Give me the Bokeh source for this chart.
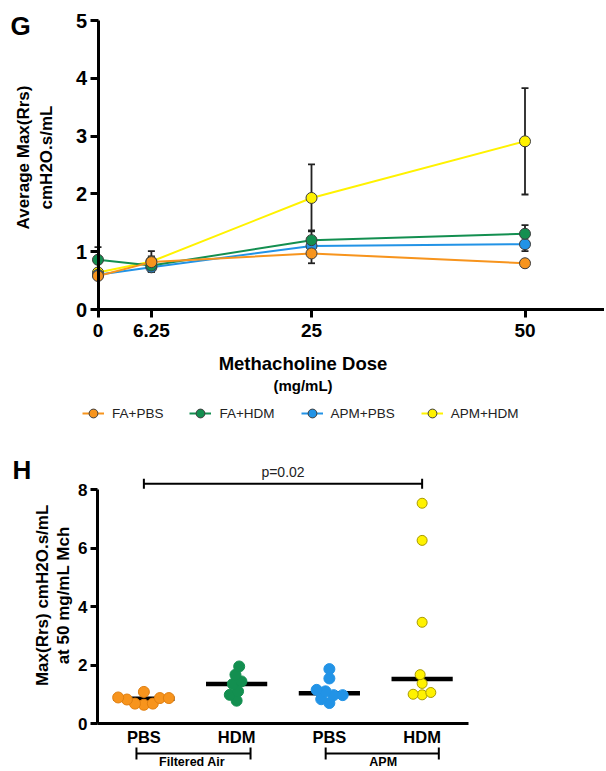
import math
import numpy as np
from bokeh.plotting import figure
from bokeh.models import (Range1d, FixedTicker, Label, Legend, LegendItem, Whisker,
                          ColumnDataSource, Arrow, TeeHead)
from bokeh.layouts import column
from bokeh.embed import file_html
from bokeh.resources import INLINE

FONT = "Liberation Sans"

# ---------------- Panel G data ----------------
doses = [0, 6.25, 25, 50]
dose_labels = ["0", "6.25", "25", "50"]
g_fa_pbs = [0.58, 0.82, 0.97, 0.80]
g_fa_hdm = [0.86, 0.76, 1.20, 1.31]
g_apm_pbs = [0.60, 0.73, 1.10, 1.13]
g_apm_hdm = [0.64, 0.83, 1.93, 2.91]
g_fa_pbs_err = [0.05, 0.10, 0.17, 0.03]
g_fa_hdm_err = [0.22, 0.10, 0.17, 0.15]
g_apm_pbs_err = [0.05, 0.08, 0.08, 0.12]
g_apm_hdm_err = [0.05, 0.18, 0.58, 0.92]
series_names = ["FA+PBS", "FA+HDM", "APM+PBS", "APM+HDM"]
g_yticks = [0, 1, 2, 3, 4, 5]

# ---------------- Panel H data ----------------
h_groups = ["PBS", "HDM", "PBS", "HDM"]
h_fa_pbs = [0.64, 0.68, 0.68, 0.82, 0.87, 0.87, 0.89, 1.08]
h_fa_hdm = [0.78, 0.98, 1.10, 1.35, 1.44, 1.67, 1.95]
h_apm_pbs = [0.70, 0.83, 0.97, 0.97, 1.10, 1.15, 1.54, 1.86]
h_apm_hdm = [0.98, 1.00, 1.06, 1.37, 1.67, 3.46, 6.26, 7.53]
h_exposures = ["Filtered Air", "APM"]
h_yticks = [0, 2, 4, 6, 8]
p_text = "p=0.02"

ORANGE = "#F7941D"
GREEN = "#138F50"
BLUE = "#2293E6"
YELLOW = "#FFF200"


def style_axis(ax, size, tick_out=8, standoff=4):
    ax.axis_line_width = 3
    ax.axis_line_color = "black"
    ax.major_tick_line_width = 3
    ax.major_tick_out = tick_out
    ax.major_tick_in = 0
    ax.minor_tick_out = 0
    ax.minor_tick_in = 0
    ax.major_label_text_font = FONT
    ax.major_label_text_font_style = "bold"
    ax.major_label_text_font_size = size
    ax.major_label_text_color = "black"
    ax.major_label_standoff = standoff


def lab(p, x, y, text, size, bold=True, xo=0, yo=0, align="center", base="middle", angle=0,
        color="black"):
    p.add_layout(Label(x=x, y=y, x_offset=xo, y_offset=yo, text=text, text_align=align,
                       text_baseline=base, angle=angle, text_font=FONT,
                       text_font_style="bold" if bold else "normal",
                       text_font_size=size, text_color=color))


# ================= Figure G =================
GW, GH = 604, 448
GX0, GXS = 97.5, 8.54     # pixel of x=0 and px per unit
GY0, GYS = 309.0, 57.8    # pixel (from top) of y=0 and px per unit
gx_start, gx_end = -GX0 / GXS, (GW - GX0) / GXS
gy_start, gy_end = -(GH - GY0) / GYS, GY0 / GYS
G = figure(width=GW, height=GH, x_range=Range1d(gx_start, gx_end), y_range=Range1d(gy_start, gy_end),
           output_backend="svg", toolbar_location=None, title=None,
           min_border_left=0, min_border_right=0, min_border_top=0, min_border_bottom=0)
G.grid.visible = False
G.outline_line_color = None
G.background_fill_color = None
G.border_fill_color = "white"
G.xaxis.ticker = FixedTicker(ticks=doses)
G.xaxis.major_label_overrides = {d: l for d, l in zip(doses, dose_labels)}
G.xaxis.bounds = (0, gx_end)
G.xaxis.fixed_location = 0
G.yaxis.ticker = FixedTicker(ticks=g_yticks)
G.yaxis.bounds = (0, g_yticks[-1])
G.yaxis.fixed_location = 0
style_axis(G.xaxis[0], "19px", 8, 6)
style_axis(G.yaxis[0], "20px", 8, 3)

vals = [g_fa_pbs, g_fa_hdm, g_apm_pbs, g_apm_hdm]
errs = [g_fa_pbs_err, g_fa_hdm_err, g_apm_pbs_err, g_apm_hdm_err]
cols = [ORANGE, GREEN, BLUE, YELLOW]
rends = {}
for idx in [3, 2, 1, 0]:
    v, e, c = vals[idx], errs[idx], cols[idx]
    src = ColumnDataSource(dict(x=doses, y=v,
                                upper=[a + b for a, b in zip(v, e)],
                                lower=[a - b for a, b in zip(v, e)]))
    w = Whisker(base="x", upper="upper", lower="lower", source=src, dimension="height",
                line_width=1.8, line_color="#222222", level="underlay",
                upper_head=TeeHead(size=7, line_width=1.8, line_color="#222222"),
                lower_head=TeeHead(size=7, line_width=1.8, line_color="#222222"))
    G.add_layout(w)
    lr = G.line("x", "y", source=src, line_color=c, line_width=2)
    sr = G.scatter("x", "y", source=src, marker="circle", size=11, fill_color=c,
                   line_color="#3c3c3c", line_width=1)
    rends[idx] = (lr, sr)

legend = Legend(items=[LegendItem(label=series_names[i], renderers=list(rends[i])) for i in range(4)],
                orientation="horizontal", location=(82, 24), glyph_width=22, glyph_height=22,
                label_standoff=8, spacing=26, padding=0, margin=0,
                border_line_color=None, background_fill_alpha=0,
                label_text_font=FONT, label_text_font_size="13.5px", label_text_color="#222222")
G.add_layout(legend)

lab(G, 24, 0, "Methacholine Dose", "18.5px", yo=-54)
lab(G, 24, 0, "(mg/mL)", "15px", yo=-76)
lab(G, 0, 2.63, "Average Max(Rrs)", "17px", xo=-74.5, angle=math.pi / 2)
lab(G, 0, 2.63, "cmH2O.s/mL", "17px", xo=-51.5, angle=math.pi / 2)
lab(G, gx_start, gy_end, "G", "26px", xo=10, yo=-10, align="left", base="top")

# ================= Figure H =================
HW, HH = 604, 321
HX0, HXS = 97.0, 92.75
HY0, HYS = 275.0, 29.25
hx_start, hx_end = -HX0 / HXS, (HW - HX0) / HXS
hy_start, hy_end = -(HH - HY0) / HYS, HY0 / HYS
H = figure(width=HW, height=HH, x_range=Range1d(hx_start, hx_end), y_range=Range1d(hy_start, hy_end),
           output_backend="svg", toolbar_location=None, title=None,
           min_border_left=0, min_border_right=0, min_border_top=0, min_border_bottom=0)
H.grid.visible = False
H.outline_line_color = None
H.background_fill_color = None
H.border_fill_color = "white"
centers = [0.5, 1.5, 2.5, 3.5]
H.xaxis.ticker = FixedTicker(ticks=centers)
H.xaxis.major_label_overrides = {c: l for c, l in zip(centers, h_groups)}
H.xaxis.bounds = (0, len(centers))
H.xaxis.fixed_location = 0
H.yaxis.ticker = FixedTicker(ticks=h_yticks)
H.yaxis.bounds = (0, h_yticks[-1])
H.yaxis.fixed_location = 0
style_axis(H.xaxis[0], "16.5px", 0, 4)
style_axis(H.yaxis[0], "17px", 7, 3)


def beeswarm(v, center, diam):
    v = np.asarray(v, dtype=float)
    order = np.argsort(v, kind="stable")
    placed = []
    out = np.zeros(len(v))
    for i in order:
        y = v[i] * HYS
        cands = [0.0]
        for (qx, qy) in placed:
            dy = abs(y - qy)
            if dy < diam:
                d = math.sqrt(diam ** 2 - dy ** 2)
                cands += [qx + d, qx - d]
        cands.sort(key=lambda c: (abs(c), c))
        chosen = 0.0
        for c in cands:
            if all((c - qx) ** 2 + (y - qy) ** 2 >= diam ** 2 - 1e-6 for qx, qy in placed):
                chosen = c
                break
        placed.append((chosen, y))
        out[i] = center + chosen / HXS
    return out


h_vals = [h_fa_pbs, h_fa_hdm, h_apm_pbs, h_apm_hdm]
h_fill = [ORANGE, GREEN, BLUE, YELLOW]
h_line = ["#E07F10", GREEN, BLUE, "#A89A00"]
h_size = [11, 11, 11, 10]
for c, v in zip(centers, h_vals):
    med = float(np.median(v))
    H.segment(x0=[c - 0.33], x1=[c + 0.33], y0=[med], y1=[med], line_color="black", line_width=4.5)
for c, v, f, lc, s in zip(centers, h_vals, h_fill, h_line, h_size):
    xs = beeswarm(v, c, 9.0)
    H.scatter(x=list(xs), y=v, marker="circle", size=s, fill_color=f, line_color=lc, line_width=1)

# significance bracket
H.add_layout(Arrow(x_start=centers[0], y_start=8.2, x_end=centers[3], y_end=8.2, line_width=2,
                   start=TeeHead(size=10, line_width=2), end=TeeHead(size=10, line_width=2)))
lab(H, 2.0, 8.2, p_text, "14px", bold=False, yo=4, base="bottom", color="#222222")

# exposure group brackets below the axis
yb = -30 / HYS
for (x0, x1, xm), name in zip([(0.42, 1.65, 1.02), (2.46, 3.68, 3.08)], h_exposures):
    H.add_layout(Arrow(x_start=x0, y_start=yb, x_end=x1, y_end=yb, line_width=2,
                       start=TeeHead(size=12, line_width=2), end=TeeHead(size=12, line_width=2)))
    lab(H, xm, 0, name, "12.5px", yo=-38.5)

lab(H, 0, 4.38, "Max(Rrs) cmH2O.s/mL", "17px", xo=-55, angle=math.pi / 2)
lab(H, 0, 4.38, "at 50 mg/mL Mch", "17px", xo=-34, angle=math.pi / 2)
lab(H, hx_start, hy_end, "H", "26px", xo=12, yo=-6, align="left", base="top")

layout = column(G, H, spacing=0)
open("out.html", "w").write(file_html(layout, INLINE))
